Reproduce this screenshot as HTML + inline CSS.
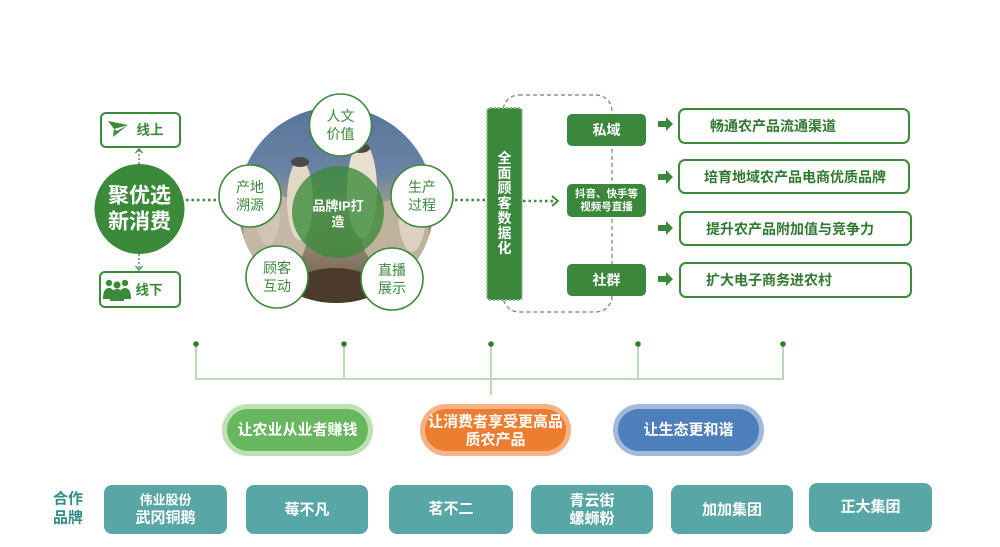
<!DOCTYPE html>
<html><head><meta charset="utf-8"><style>
html,body{margin:0;padding:0;background:#fff;}
svg{display:block;}
text{font-family:"Liberation Sans","Noto Sans CJK SC",sans-serif;}
</style></head><body>
<svg width="1000" height="547" viewBox="0 0 1000 547" xmlns="http://www.w3.org/2000/svg">
<defs>
<clipPath id="photo"><circle cx="336" cy="205" r="98"/></clipPath>
<linearGradient id="bg" x1="0" y1="0" x2="0" y2="1">
<stop offset="0" stop-color="#56739a"/>
<stop offset="0.35" stop-color="#6a84a4"/>
<stop offset="0.52" stop-color="#a89d8a"/>
<stop offset="0.78" stop-color="#857664"/>
<stop offset="1" stop-color="#54412f"/>
</linearGradient>
</defs>

<!-- photo circle -->
<g clip-path="url(#photo)">
<rect x="230" y="100" width="215" height="210" fill="url(#bg)"/>
<ellipse cx="275" cy="235" rx="32" ry="40" fill="#c4b8a4"/>
<ellipse cx="395" cy="235" rx="34" ry="35" fill="#bfb29c"/>
<ellipse cx="300" cy="200" rx="13" ry="40" fill="#e2d8c6"/>
<ellipse cx="362" cy="190" rx="15" ry="48" fill="#e8dfcf"/>
<ellipse cx="412" cy="210" rx="14" ry="42" fill="#ddd2bf"/>
<ellipse cx="268" cy="215" rx="12" ry="30" fill="#d0c5b2"/>
<ellipse cx="300" cy="162" rx="9" ry="5" fill="#4a4848"/>
<ellipse cx="360" cy="148" rx="10" ry="5" fill="#4a4848"/>
<ellipse cx="415" cy="172" rx="9" ry="5" fill="#4a4848"/>
<ellipse cx="335" cy="288" rx="42" ry="20" fill="#4c3a2c"/>
<ellipse cx="260" cy="275" rx="25" ry="18" fill="#8d8070"/>
</g>
<circle cx="338" cy="212" r="46" fill="#3a8a3a" fill-opacity="0.78"/>
<text x="338" y="206" text-anchor="middle" dominant-baseline="central" font-size="13" font-weight="bold" fill="#fff">品牌IP打</text>
<text x="338" y="222" text-anchor="middle" dominant-baseline="central" font-size="13" font-weight="bold" fill="#fff">造</text>

<!-- small circles -->
<g fill="#fff" stroke="#3a8a3a" stroke-width="1.6">
<circle cx="340.5" cy="125" r="31"/>
<circle cx="250" cy="196" r="31"/>
<circle cx="422" cy="196" r="31"/>
<circle cx="277" cy="277" r="31"/>
<circle cx="392" cy="279" r="31"/>
</g>
<g font-size="14" fill="#3a8a3a" text-anchor="middle" dominant-baseline="central">
<text x="340.5" y="116">人文</text><text x="340.5" y="134">价值</text>
<text x="250" y="187">产地</text><text x="250" y="205">溯源</text>
<text x="422" y="187">生产</text><text x="422" y="205">过程</text>
<text x="277" y="268">顾客</text><text x="277" y="286">互动</text>
<text x="392" y="270">直播</text><text x="392" y="288">展示</text>
</g>

<!-- left: main circle & boxes -->
<rect x="101" y="113" width="79" height="34" rx="5" fill="#fff" stroke="#3a8a3a" stroke-width="2"/>
<polygon points="108,121 128,125 113,137 114,129" fill="#3a8a3a"/>
<polygon points="114,129 128,125 117,131" fill="#fff"/>
<text x="150" y="130" text-anchor="middle" dominant-baseline="central" font-size="13.5" font-weight="bold" fill="#3a8a3a">线上</text>

<rect x="100" y="272" width="80" height="35" rx="5" fill="#fff" stroke="#3a8a3a" stroke-width="2"/>
<g fill="#3a8a3a">
<circle cx="109" cy="283" r="3.2"/><path d="M103 299 q0-11 6-11 q6 0 6 11z"/>
<circle cx="125" cy="283" r="3.2"/><path d="M119 299 q0-11 6-11 q6 0 6 11z"/>
<circle cx="117" cy="285" r="3.6"/><path d="M110 301 q0-12 7-12 q7 0 7 12z"/>
</g>
<text x="149" y="290" text-anchor="middle" dominant-baseline="central" font-size="13.5" font-weight="bold" fill="#3a8a3a">线下</text>

<circle cx="139.5" cy="209" r="45" fill="#3a8a3a"/>
<text x="139.5" y="196" text-anchor="middle" dominant-baseline="central" font-size="21" font-weight="bold" fill="#fff">聚优选</text>
<text x="139.5" y="222" text-anchor="middle" dominant-baseline="central" font-size="21" font-weight="bold" fill="#fff">新消费</text>

<!-- vertical dotted arrows -->
<g stroke="#3a8a3a" stroke-width="1.3" fill="none">
<line x1="139" y1="164" x2="139" y2="150" stroke-dasharray="2 2"/>
<polyline points="135.5,153 139,149 142.5,153"/>
<line x1="139" y1="254" x2="139" y2="269" stroke-dasharray="2 2"/>
<polyline points="135.5,266 139,270 142.5,266"/>
</g>

<!-- horizontal dotted connectors -->
<g stroke="#3a8a3a" stroke-width="2.5" stroke-dasharray="2.5 3" fill="none">
<line x1="186" y1="200" x2="218" y2="200"/>
<line x1="455" y1="200" x2="487" y2="200"/>
<line x1="523" y1="201" x2="555" y2="201"/>
</g>
<polyline points="552,196 558,201 552,206" stroke="#3a8a3a" stroke-width="1.8" fill="none"/>

<!-- dashed rounded rect -->
<rect x="503" y="95" width="109" height="217" rx="16" fill="none" stroke="#5d8f5d" stroke-width="1.2" stroke-dasharray="4 3"/>

<!-- vertical bar -->
<rect x="487" y="108" width="35" height="192" rx="3" fill="#3b873b" stroke="#86bb86" stroke-width="2" stroke-dasharray="2 2"/>
<g font-size="14" font-weight="bold" fill="#fff" text-anchor="middle" dominant-baseline="central">
<text x="504.5" y="158">全</text><text x="504.5" y="173">面</text><text x="504.5" y="188">顾</text><text x="504.5" y="203">客</text><text x="504.5" y="218">数</text><text x="504.5" y="233">据</text><text x="504.5" y="248">化</text>
</g>

<!-- channel boxes -->
<g fill="#3b873b">
<rect x="567" y="114" width="79" height="32" rx="5"/>
<rect x="567" y="184" width="79" height="33" rx="5"/>
<rect x="567" y="264" width="79" height="32" rx="5"/>
</g>
<g fill="#fff" font-weight="bold" text-anchor="middle" dominant-baseline="central">
<text x="606.5" y="130" font-size="14">私域</text>
<text x="606.5" y="194" font-size="10.5">抖音、快手等</text>
<text x="606.5" y="207" font-size="10.5">视频号直播</text>
<text x="606.5" y="280" font-size="14">社群</text>
</g>

<!-- block arrows -->
<g fill="#3b873b">
<path d="M658 121 h8 v-4 l7 7 l-7 7 v-4 h-8z"/>
<path d="M658 174 h8 v-4 l7 7 l-7 7 v-4 h-8z"/>
<path d="M658 225 h8 v-4 l7 7 l-7 7 v-4 h-8z"/>
<path d="M658 276 h8 v-4 l7 7 l-7 7 v-4 h-8z"/>
</g>

<!-- outcome boxes -->
<g fill="#fff" stroke="#3a8a3a" stroke-width="2">
<rect x="679" y="109" width="230" height="34" rx="6"/>
<rect x="679" y="160" width="230" height="33" rx="6"/>
<rect x="680" y="212" width="231" height="33" rx="6"/>
<rect x="680" y="263" width="231" height="34" rx="6"/>
</g>
<g font-size="14" font-weight="bold" fill="#2f7a2f" dominant-baseline="central">
<text x="710" y="126">畅通农产品流通渠道</text>
<text x="704" y="177">培育地域农产品电商优质品牌</text>
<text x="706" y="229">提升农产品附加值与竞争力</text>
<text x="706" y="280">扩大电子商务进农村</text>
</g>

<!-- bottom connector -->
<g stroke="#bcdab8" stroke-width="2" fill="none">
<line x1="196" y1="344" x2="196" y2="379"/>
<line x1="344" y1="344" x2="344" y2="379"/>
<line x1="491" y1="344" x2="491" y2="395"/>
<line x1="638" y1="344" x2="638" y2="379"/>
<line x1="783" y1="344" x2="783" y2="379"/>
<line x1="195" y1="379" x2="784" y2="379"/>
</g>
<g fill="#2e7d32">
<circle cx="196" cy="344" r="2.8"/><circle cx="344" cy="344" r="2.8"/><circle cx="491" cy="344" r="2.8"/><circle cx="638" cy="344" r="2.8"/><circle cx="783" cy="344" r="2.8"/>
</g>

<!-- pills -->
<rect x="224.5" y="406.5" width="146" height="47" rx="23.5" fill="#68b65e" stroke="#bde0b5" stroke-width="5"/>
<rect x="422.5" y="406.5" width="146" height="47" rx="23.5" fill="#ed7d31" stroke="#f4b286" stroke-width="5"/>
<rect x="615.5" y="406.5" width="146" height="47" rx="23.5" fill="#4e7fbd" stroke="#a2b9db" stroke-width="5"/>
<g fill="#fff" font-size="15" font-weight="bold" text-anchor="middle" dominant-baseline="central">
<text x="297.5" y="430">让农业从业者赚钱</text>
<text x="495.5" y="422">让消费者享受更高品</text>
<text x="495.5" y="440">质农产品</text>
<text x="688.5" y="430">让生态更和谐</text>
</g>

<!-- partner brands -->
<g fill="#2f8f8b" font-size="15" font-weight="bold" text-anchor="middle" dominant-baseline="central">
<text x="68" y="499">合作</text>
<text x="68" y="518">品牌</text>
</g>
<g fill="#58a6a5">
<rect x="104" y="485" width="123" height="49" rx="8"/>
<rect x="246" y="485" width="122" height="49" rx="8"/>
<rect x="389" y="485" width="124" height="49" rx="8"/>
<rect x="531" y="485" width="122" height="49" rx="8"/>
<rect x="671" y="485" width="122" height="49" rx="8"/>
<rect x="809" y="483" width="123" height="49" rx="8"/>
</g>
<g fill="#fff" font-weight="bold" text-anchor="middle" dominant-baseline="central">
<text x="165.5" y="500" font-size="13">伟业股份</text>
<text x="165.5" y="518" font-size="15">武冈铜鹅</text>
<text x="307" y="510" font-size="15">莓不凡</text>
<text x="451" y="509" font-size="15">茗不二</text>
<text x="592" y="501" font-size="15">青云街</text>
<text x="592" y="519" font-size="15">螺蛳粉</text>
<text x="732" y="510" font-size="15">加加集团</text>
<text x="870.5" y="507" font-size="15">正大集团</text>
</g>
</svg>
</body></html>
